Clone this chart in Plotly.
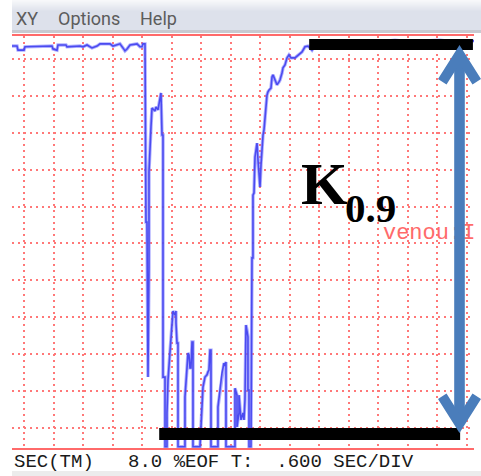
import plotly.graph_objects as go

# ---- recorded trace: time in s (0.6 s per division), level in % of full scale ----
# baseline plateau before the occlusion
base_t = [-0.244, -0.142, -0.122, 0.0, 0.020, 0.163, 0.183, 0.569, 0.590, 0.671,
          0.691, 0.854, 0.874, 1.017, 1.139, 1.200, 1.281, 1.383, 1.485, 1.546,
          1.749, 1.810, 1.912, 1.952, 2.013, 2.054, 2.095, 2.156, 2.298, 2.359,
          2.400, 2.420, 2.461]
base_v = [103.5, 103.5, 102.4, 102.4, 103.3, 103.3, 103.5, 103.5, 102.7, 102.4,
          103.8, 103.8, 103.3, 103.5, 103.5, 103.3, 103.8, 103.0, 103.5, 104.1,
          104.1, 103.5, 103.8, 104.1, 103.0, 102.2, 102.7, 103.8, 104.1, 103.3,
          103.3, 104.1, 104.1]

# drop and low-level bursts
occl_t = [2.481, 2.501, 2.522, 2.542, 2.542, 2.583, 2.603, 2.664, 2.684, 2.725,
          2.745, 2.786, 2.807, 2.827, 2.827, 2.868, 2.868,
          2.908, 2.908, 2.929, 2.969, 3.010, 3.030, 3.071, 3.091, 3.091, 3.112, 3.132, 3.132,
          3.274, 3.274, 3.315, 3.335, 3.356, 3.376, 3.396, 3.417, 3.437, 3.437,
          3.579, 3.600, 3.620, 3.640, 3.681, 3.722, 3.742, 3.762, 3.783, 3.803, 3.803,
          3.945, 3.945, 3.986, 4.027, 4.067, 4.088, 4.108, 4.108,
          4.291, 4.291, 4.332, 4.332, 4.372, 4.372, 4.413, 4.454, 4.474, 4.494,
          4.515, 4.535, 4.555, 4.555, 4.576, 4.576, 4.616, 4.637]
occl_v = [55.8, 55.8, 13.8, 43.4, 69.4, 81.6, 86.7, 85.9, 87.0, 86.2,
          87.5, 90.8, 79.4, 79.4, 13.8, 13.8, -5.1,
          -5.1, 4.1, 13.0, 20.6, 29.3, 31.7, 30.6, 31.7, 28.5, 23.0, 23.0, -5.1,
          -5.1, 8.4, 16.3, 20.3, 19.8, 16.3, 16.3, 23.3, 23.3, -5.1,
          -5.1, 2.2, 6.8, 11.1, 13.8, 14.4, 15.2, 15.7, 21.1, 21.1, -5.1,
          -5.1, 5.7, 10.3, 14.9, 17.6, 16.8, 17.9, -5.1,
          -5.1, 10.8, 8.9, 0.3, 4.1, 8.9, 2.2, 4.1, 2.2, 7.6,
          27.9, 26.6, 24.7, 10.3, 10.3, -5.1, -5.1, 46.1]

# recovery back to the plateau
rec_t = [4.657, 4.657, 4.678, 4.698, 4.718, 4.739, 4.759, 4.779, 4.800, 4.820,
         4.840, 4.861, 4.881, 4.901, 4.922, 4.942, 4.962, 4.983, 5.023, 5.044,
         5.064, 5.105, 5.145, 5.186, 5.206, 5.247, 5.267, 5.308, 5.349, 5.389,
         5.430, 5.511, 5.572, 5.654, 5.715, 5.776, 5.816, 5.857, 5.898, 5.979,
         6.122, 6.427, 6.671, 6.935, 7.240, 7.545, 7.850, 8.155, 8.460, 8.765, 9.152]
rec_v = [46.1, 63.1, 63.7, 73.4, 75.3, 77.2, 72.6, 67.8, 65.3, 71.3,
         76.2, 79.4, 80.8, 84.3, 86.2, 90.2, 91.1, 91.6, 92.1, 95.1,
         95.7, 94.3, 93.0, 93.8, 94.3, 96.2, 97.6, 98.4, 100.3, 101.1,
         100.3, 100.3, 101.1, 101.9, 103.3, 103.5, 103.0, 102.4, 103.3, 103.8,
         104.6, 104.9, 104.3, 104.9, 104.6, 105.1, 104.6, 104.9, 105.1, 104.6, 104.9]

# marked levels (plateau and floor) and the time spans of the markers
upper_level = 103.9
lower_level = -1.6
upper_span = [5.80, 9.13]
lower_span = [2.75, 8.87]

menu_items = ["XY", "Options", "Help"]
menu_x_px = [14, 56, 138]
status_text = "SEC(TM)   8.0 %EOF T:  .600 SEC/DIV"
channel_label = "venou:I"
k_main, k_sub = "K", "0.9"

# ---- figure geometry ----
W, H = 481, 476
ML, MR, MT, MB = 12, 7, 36, 28
PW, PH = W - ML - MR, H - MT - MB


def px_x(p):
    return (p - ML) / PW


def px_y(p):
    return (H - MB - p) / PH


RED = "#ff6a6a"
GRID = "#ff7878"
ARROW = "#4a7dbb"

t_all = base_t + occl_t + rec_t
v_all = base_v + occl_v + rec_v

fig = go.Figure()
# soft halo under the trace, then the trace itself
fig.add_trace(go.Scatter(
    x=t_all, y=v_all, mode="lines",
    line=dict(color="rgba(110,110,255,0.55)", width=3.4),
    hoverinfo="skip", showlegend=False))
fig.add_trace(go.Scatter(
    x=t_all, y=v_all, mode="lines",
    line=dict(color="#4b4bf0", width=1.6),
    hoverinfo="skip", showlegend=False))

fig.add_trace(go.Scatter(
    x=[7.30], y=[52.8], mode="text", text=[channel_label],
    textposition="middle right",
    textfont=dict(family="Liberation Mono", size=22, color=RED),
    hoverinfo="skip", showlegend=False))

shapes = []

# menu bar: soft vertical gradient
top_c, bot_c = (247, 248, 250), (221, 225, 235)
for i in range(12):
    f = i / 11
    c = tuple(round(a + (b - a) * f) for a, b in zip(top_c, bot_c))
    shapes.append(dict(type="rect", xref="paper", yref="paper",
                       x0=px_x(ML), x1=px_x(W), y0=px_y(i + 1), y1=px_y(i),
                       fillcolor="rgb(%d,%d,%d)" % c, line_width=0, layer="below"))
shapes.append(dict(type="rect", xref="paper", yref="paper",
                   x0=px_x(ML), x1=px_x(W), y0=px_y(30), y1=px_y(12),
                   fillcolor="rgb(221,225,235)", line_width=0, layer="below"))
shapes.append(dict(type="rect", xref="paper", yref="paper",
                   x0=px_x(ML), x1=px_x(W), y0=px_y(33), y1=px_y(30),
                   fillcolor="#c8cad1", line_width=0, layer="below"))
# status strip at the very bottom
shapes.append(dict(type="rect", xref="paper", yref="paper",
                   x0=px_x(ML), x1=px_x(W), y0=px_y(H), y1=px_y(471),
                   fillcolor="#ececec", line_width=0, layer="below"))

# level markers
shapes.append(dict(type="line", xref="x", yref="y",
                   x0=upper_span[0], x1=upper_span[1], y0=upper_level, y1=upper_level,
                   line=dict(color="black", width=11)))
shapes.append(dict(type="line", xref="x", yref="y",
                   x0=lower_span[0], x1=lower_span[1], y0=lower_level, y1=lower_level,
                   line=dict(color="black", width=12)))


def poly(points):
    d = "M " + " L ".join("%.5f,%.5f" % (px_x(a), px_y(b)) for a, b in points) + " Z"
    return dict(type="path", xref="paper", yref="paper", path=d,
                fillcolor=ARROW, line_width=0)


# double-headed arrow spanning the two levels
cx = 459.5
shapes.append(poly([(cx - 5.3, 58), (cx + 5.3, 58), (cx + 5.3, 420), (cx - 5.3, 420)]))
shapes.append(poly([(cx, 45), (481, 79), (472.5, 84.5), (cx, 64), (446.5, 84.5), (438, 79)]))
shapes.append(poly([(cx, 433), (481, 399), (472.5, 393.5), (cx, 414), (446.5, 393.5), (438, 399)]))

annotations = []
for label, xp in zip(menu_items, menu_x_px):
    annotations.append(dict(text=label, xref="paper", yref="paper",
                            x=px_x(xp), y=px_y(18), xanchor="left", yanchor="middle",
                            showarrow=False,
                            font=dict(family="Roboto", size=18, color="#5c5c5c")))
annotations.append(dict(text=status_text, xref="paper", yref="paper",
                        x=px_x(12), y=px_y(462), xanchor="left", yanchor="middle",
                        showarrow=False,
                        font=dict(family="Liberation Mono", size=19, color="#1a1a1a")))
annotations.append(dict(text="<b>%s</b>" % k_main, xref="paper", yref="paper",
                        x=px_x(299), y=px_y(184), xanchor="left", yanchor="middle",
                        showarrow=False,
                        font=dict(family="Liberation Serif", size=60, color="black")))
annotations.append(dict(text="<b>%s</b>" % k_sub, xref="paper", yref="paper",
                        x=px_x(343), y=px_y(208), xanchor="left", yanchor="middle",
                        showarrow=False,
                        font=dict(family="Liberation Serif", size=41, color="black")))

fig.update_layout(
    width=W, height=H,
    margin=dict(l=ML, r=MR, t=MT, b=MB, pad=0),
    paper_bgcolor="white", plot_bgcolor="white",
    shapes=shapes, annotations=annotations,
    xaxis=dict(range=[-0.244, 9.152], tick0=0, dtick=0.6,
               showgrid=True, gridcolor=GRID, gridwidth=1.6, griddash="2px,4px",
               zeroline=False, showticklabels=False, ticks="",
               showline=True, mirror=True, linecolor=RED, linewidth=2,
               fixedrange=True),
    yaxis=dict(range=[-5.42, 106.23], tick0=0, dtick=10,
               showgrid=True, gridcolor=GRID, gridwidth=1.6, griddash="2px,4px",
               zeroline=False, showticklabels=False, ticks="",
               showline=False, fixedrange=True),
)

fig.write_html("out.html", config={"displayModeBar": False})
